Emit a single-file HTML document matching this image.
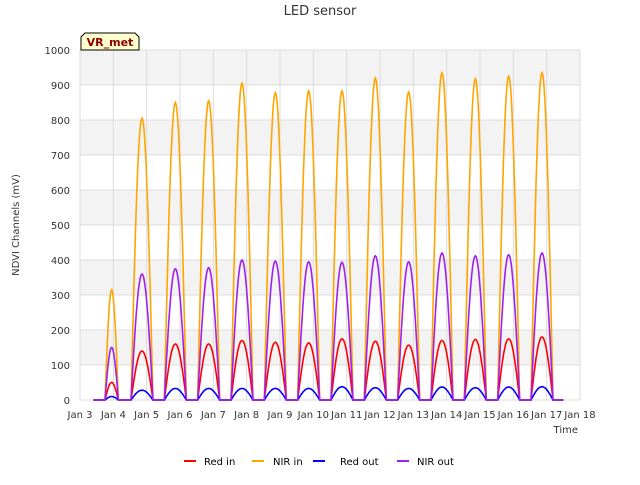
<!DOCTYPE html>
<html><head><meta charset="utf-8"><style>
body{margin:0;background:#fff;font-family:"Liberation Sans","DejaVu Sans",sans-serif;}
svg text{font-family:"DejaVu Sans","Liberation Sans",sans-serif;}
</style></head><body>
<svg id="c" width="640" height="480">
<defs><clipPath id="plotclip"><rect x="80" y="50" width="500" height="352"/></clipPath></defs>
<rect x="0" y="0" width="640" height="480" fill="#fff"/>
<g id="bands"></g>
<g id="grid"></g>
<g id="series" clip-path="url(#plotclip)"></g>
<g id="axes"></g>
<text x="320" y="15" text-anchor="middle" font-size="13" fill="#333">LED sensor</text>
<text transform="translate(19,225) rotate(-90)" text-anchor="middle" font-size="10" fill="#333">NDVI Channels (mV)</text>
<text x="578" y="433" text-anchor="end" font-size="10" fill="#333">Time</text>
<g>
<path d="M81,50 L81,37 L85,33 L135,33 L139,37 L139,50 Z" fill="#ffffcc" stroke="#000" stroke-width="1"/>
<text x="110" y="46" text-anchor="middle" font-size="11" font-weight="bold" fill="#8b0000">VR_met</text>
</g>
<g id="legend"></g>
</svg>
<script>
const categories=["Jan 4","Jan 5","Jan 6","Jan 7","Jan 8","Jan 9","Jan 10","Jan 11","Jan 12","Jan 13","Jan 14","Jan 15","Jan 16","Jan 17"];
const peakDays=[3.95,4.86,5.86,6.86,7.86,8.86,9.86,10.86,11.86,12.86,13.86,14.86,15.86,16.86];
const nirIn=[315,805,850,855,905,878,883,883,920,880,935,918,925,935];
const nirOut=[150,360,375,378,400,397,395,393,412,395,420,412,415,420];
const redIn=[50,140,160,160,170,165,163,175,168,157,170,173,175,180];
const redOut=[10,28,33,33,33,33,33,38,35,33,37,35,37,38];
const xTicks=["Jan 3","Jan 4","Jan 5","Jan 6","Jan 7","Jan 8","Jan 9","Jan 10","Jan 11","Jan 12","Jan 13","Jan 14","Jan 15","Jan 16","Jan 17","Jan 18"];
const yTicks=[0,100,200,300,400,500,600,700,800,900,1000];
const X0=80,X1=580,Y0=400,Y1=50;
const xs=d=>X0+(d-3)*(X1-X0)/15;
const ys=v=>Y0-v*(Y0-Y1)/1000;
const NS="http://www.w3.org/2000/svg";
function mk(t,a,p){const e=document.createElementNS(NS,t);for(const k in a)e.setAttribute(k,a[k]);p.appendChild(e);return e;}
const bands=document.getElementById('bands'),grid=document.getElementById('grid'),axes=document.getElementById('axes');
for(let i=0;i<yTicks.length-1;i++){ if(i%2===1){const r=mk('rect',{x:X0,y:ys(yTicks[i+1]),width:X1-X0,height:ys(yTicks[i])-ys(yTicks[i+1]),fill:'#f3f3f3'},bands);

}}
yTicks.forEach(v=>{const l=mk('line',{x1:X0,x2:X1,y1:ys(v),y2:ys(v),stroke:'#dcdcdc','stroke-width':1},grid);


const t=mk('text',{x:X0-10,y:ys(v)+4,'text-anchor':'end','font-size':10,fill:'#333'},axes);t.textContent=v;

});
xTicks.forEach((s,i)=>{const l=mk('line',{x1:xs(i+3),x2:xs(i+3),y1:Y1,y2:Y0,stroke:'#dcdcdc','stroke-width':1},grid);


const t=mk('text',{x:xs(i+3),y:Y0+18,'text-anchor':'middle','font-size':10,fill:'#333'},axes);t.textContent=s;

});
const ser=document.getElementById('series');
function draw(vals,color,name){let pts=[];const hw=0.33;
pts.push([3.4,0]);
peakDays.forEach((p,i)=>{const w=i===0?0.2:hw;for(let k=0;k<=30;k++){const d=p-w+2*w*k/30;const v=vals[i]*Math.sin(Math.PI*k/30);pts.push([d,v]);}});
pts.push([17.5,0]);
const pl=mk('polyline',{points:pts.map(q=>xs(q[0]).toFixed(1)+','+ys(q[1]).toFixed(1)).join(' '),fill:'none',stroke:color,'stroke-width':1.6},ser);

}
draw(nirIn,'orange','nir-in-line');draw(redIn,'red','red-in-line');draw(redOut,'blue','red-out-line');draw(nirOut,'#a020f0','nir-out-line');
const lg=document.getElementById('legend');
[["Red in","red",184,204],["NIR in","orange",252,273],["Red out","blue",313,340],["NIR out","#a020f0",397,417]].forEach(e=>{
const g=mk('g',{},lg);


mk('line',{x1:e[2],x2:e[2]+12,y1:461,y2:461,stroke:e[1],'stroke-width':2},g);
const t=mk('text',{x:e[3],y:465,'font-size':10,fill:'#000'},g);t.textContent=e[0];});
</script>
</body></html>
